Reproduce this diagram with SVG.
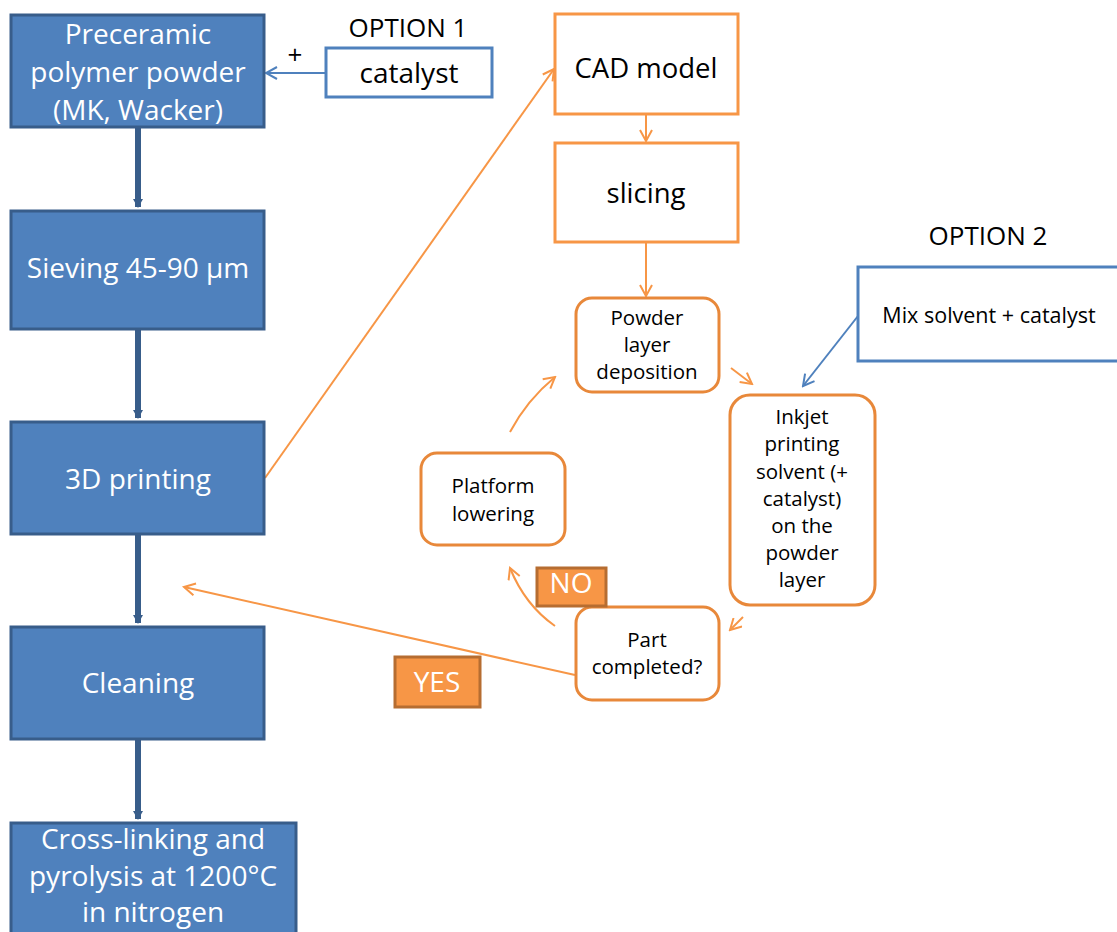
<svg xmlns="http://www.w3.org/2000/svg" width="1117" height="932" viewBox="0 0 1117 932">
<defs>
<style>
.bb{fill:#4F81BD;stroke:#385D8A;stroke-width:3}
.wt{fill:#fff;font-family:"Open Sans","Liberation Sans",sans-serif;font-size:28px;text-anchor:middle}
.bt{fill:#000;font-family:"Open Sans","Liberation Sans",sans-serif;text-anchor:middle}
.st{font-size:20.5px}
.ob{fill:#fff;stroke:#F79646;stroke-width:3}
.orr{fill:#fff;stroke:#E8883A;stroke-width:3}
.lb{fill:#fff;stroke:#4F81BD;stroke-width:3}
.tag{fill:#F79646;stroke:#B66D31;stroke-width:3}
.oc{fill:none;stroke:#F79646;stroke-width:2}
.bc{fill:none;stroke:#4F81BD;stroke-width:2}
.thick{stroke:#385D8A;stroke-width:6;fill:none}
</style>
<marker id="ao" markerWidth="14" markerHeight="14" refX="12" refY="7" orient="auto" markerUnits="userSpaceOnUse"><path d="M1,1 L12,7 L1,13" fill="none" stroke="#F79646" stroke-width="2"/></marker>
<marker id="ab" markerWidth="14" markerHeight="14" refX="12" refY="7" orient="auto" markerUnits="userSpaceOnUse"><path d="M1,1 L12,7 L1,13" fill="none" stroke="#4F81BD" stroke-width="2"/></marker>
<marker id="at" markerWidth="12" markerHeight="12" refX="9" refY="6" orient="auto" markerUnits="userSpaceOnUse"><path d="M1,1 L10,6 L1,11 Z" fill="#385D8A"/></marker>
</defs>
<rect width="1117" height="932" fill="#fff"/>
<g id="connectors">
<line class="thick" x1="138" y1="128" x2="138" y2="207" marker-end="url(#at)"/>
<line class="thick" x1="138" y1="330" x2="138" y2="418" marker-end="url(#at)"/>
<line class="thick" x1="138" y1="535" x2="138" y2="623" marker-end="url(#at)"/>
<line class="thick" x1="138" y1="740" x2="138" y2="819" marker-end="url(#at)"/>
<line class="bc" x1="326" y1="73" x2="266" y2="73" marker-end="url(#ab)"/>
<line class="oc" x1="265" y1="478" x2="554" y2="69" marker-end="url(#ao)"/>
<line class="oc" x1="646" y1="115" x2="646" y2="141" marker-end="url(#ao)"/>
<line class="oc" x1="646" y1="243" x2="646" y2="296" marker-end="url(#ao)"/>
<line class="oc" x1="731" y1="368" x2="752" y2="384" marker-end="url(#ao)"/>
<line class="bc" x1="858" y1="316" x2="803" y2="386" marker-end="url(#ab)"/>
<line class="oc" x1="743" y1="617" x2="730" y2="630" marker-end="url(#ao)"/>
<path class="oc" d="M555,626 Q525,605 510,568" marker-end="url(#ao)"/>
<path class="oc" d="M510,432 Q527,400 555,377" marker-end="url(#ao)"/>
<line class="oc" x1="575" y1="675" x2="184" y2="587" marker-end="url(#ao)"/>
</g>
<g id="n1"><rect class="bb" x="11" y="15" width="253" height="112"/>
<text class="wt" x="138" y="44">Preceramic</text><text class="wt" x="138" y="82">polymer powder</text><text class="wt" x="138" y="120">(MK, Wacker)</text></g>
<g id="n2"><rect class="bb" x="11" y="211" width="253" height="118"/><text class="wt" x="138" y="278">Sieving 45-90 µm</text></g>
<g id="n3"><rect class="bb" x="11" y="422" width="253" height="112"/><text class="wt" x="138" y="489">3D printing</text></g>
<g id="n4"><rect class="bb" x="11" y="627" width="253" height="112"/><text class="wt" x="138" y="693">Cleaning</text></g>
<g id="n5"><rect class="bb" x="11" y="823" width="285" height="120"/>
<text class="wt" x="153" y="849">Cross-linking and</text><text class="wt" x="153" y="886">pyrolysis at 1200°C</text><text class="wt" x="153" y="922">in nitrogen</text></g>
<g id="opt1"><text class="bt" x="408" y="37" font-size="26">OPTION 1</text><text class="bt" x="295" y="64" font-size="26">+</text>
<rect class="lb" x="326" y="48" width="166" height="49"/><text class="bt" x="409" y="83" font-size="28">catalyst</text></g>
<g id="cad"><rect class="ob" x="555" y="14" width="183" height="100"/><text class="bt" x="646" y="78" font-size="27.5">CAD model</text></g>
<g id="slicing"><rect class="ob" x="555" y="143" width="183" height="99"/><text class="bt" x="646" y="203" font-size="27.5">slicing</text></g>
<g id="opt2"><text class="bt" x="988" y="245" font-size="26">OPTION 2</text>
<rect class="lb" x="858" y="267" width="270" height="94"/><text class="bt" x="989" y="323" font-size="21.5">Mix solvent + catalyst</text></g>
<g id="powder"><rect class="orr" x="576" y="298" width="143" height="94" rx="16"/>
<text class="bt st" x="647" y="325">Powder</text><text class="bt st" x="647" y="352">layer</text><text class="bt st" x="647" y="379">deposition</text></g>
<g id="inkjet"><rect class="orr" x="730" y="395" width="145" height="210" rx="20"/>
<text class="bt st" x="802" y="424">Inkjet</text><text class="bt st" x="802" y="451">printing</text><text class="bt st" x="802" y="479">solvent (+</text><text class="bt st" x="802" y="506">catalyst)</text><text class="bt st" x="802" y="533">on the</text><text class="bt st" x="802" y="560">powder</text><text class="bt st" x="802" y="587">layer</text></g>
<g id="platform"><rect class="orr" x="421" y="453" width="144" height="92" rx="16"/>
<text class="bt st" x="493" y="493">Platform</text><text class="bt st" x="493" y="521">lowering</text></g>
<g id="part"><rect class="orr" x="576" y="607" width="143" height="93" rx="16"/>
<text class="bt st" x="647" y="647">Part</text><text class="bt st" x="647" y="674">completed?</text></g>
<g id="no"><rect class="tag" x="537" y="568" width="69" height="38"/><text class="wt" x="571" y="593" font-size="26">NO</text></g>
<g id="yes"><rect class="tag" x="395" y="657" width="85" height="50"/><text class="wt" x="437" y="692" font-size="26">YES</text></g>
</svg>
